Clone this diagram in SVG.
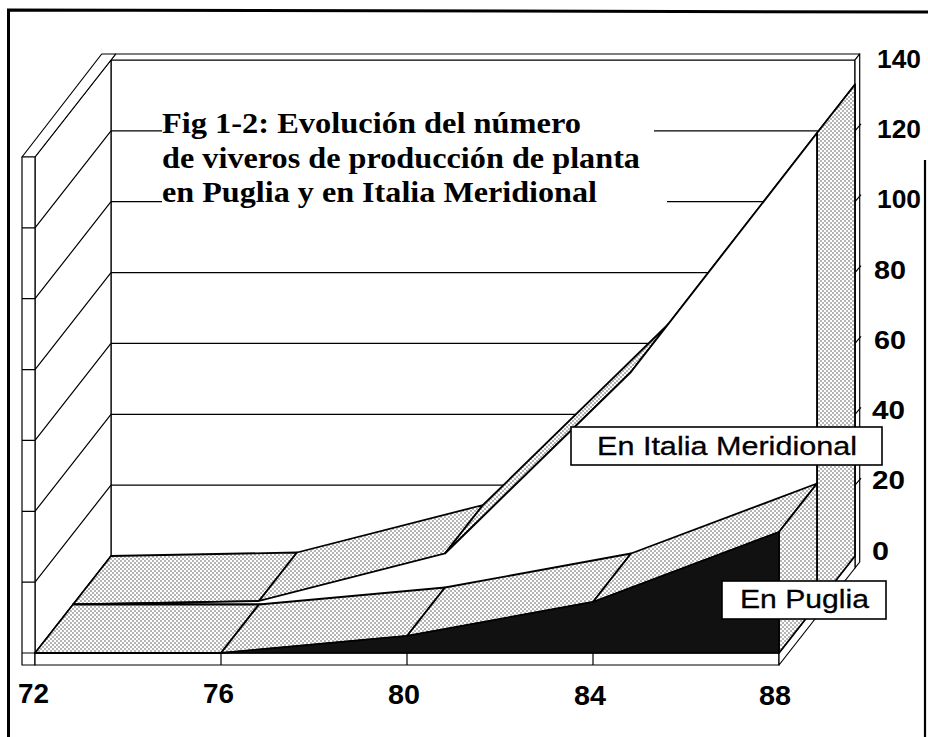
<svg xmlns="http://www.w3.org/2000/svg" width="928" height="737" viewBox="0 0 928 737">
<defs>
<pattern id="dots" width="4" height="4" patternUnits="userSpaceOnUse">
<rect width="4" height="4" fill="#fff"/>
<circle cx="1" cy="1" r="0.7" fill="#333"/>
<circle cx="3" cy="3" r="0.7" fill="#333"/>
</pattern>
<style>
.w{fill:#fff;stroke:#000;stroke-width:1.2;stroke-linejoin:round}
.g{fill:none;stroke:#000;stroke-width:1.2}
.s{fill:url(#dots);stroke:#000;stroke-width:1.8;stroke-linejoin:round}
.f{fill:#fff;stroke:#000;stroke-width:1.8;stroke-linejoin:round}
.k{fill:#111;stroke:#000;stroke-width:1.5;stroke-linejoin:round}
.num{font-family:"Liberation Sans",Arial,sans-serif;font-weight:bold;font-size:25px;fill:#000}
.numx{font-family:"Liberation Sans",Arial,sans-serif;font-weight:bold;font-size:28px;fill:#000}
.lab{font-family:"Liberation Sans",Arial,sans-serif;font-size:26px;fill:#000;stroke:#000;stroke-width:0.3}
.ttl{font-family:"Liberation Serif","Times New Roman",serif;font-weight:bold;font-size:29px;fill:#000}
.box{fill:#fff;stroke:#000;stroke-width:1.6}
</style>
</defs>

<g id="frame" fill="none" stroke="#000" stroke-width="3">
<path d="M8.5 737 V10 L928 12"/>
<path d="M925 160 V737" stroke-width="2.2"/>
</g>

<g id="walls">
<rect class="w" x="111" y="60" width="744" height="496"/>
<polygon class="w" points="111,60 855,60 859.7,54 115.7,54"/>
<polygon class="w" points="855,60 859.7,54 859.7,562 855,568"/>
<g class="g">
<path d="M111 485.1 H855 M111 414.3 H855 M111 343.4 H855 M111 272.6 H855"/>
<path d="M111 201.7 H162 M667 201.7 H855 M111 130.8 H162 M654 130.8 H855"/>
<path d="M855 485.1 l6 -7 M855 414.3 l6 -7 M855 343.4 l6 -7 M855 272.6 l6 -7 M855 201.7 l6 -7 M855 130.8 l6 -7"/>
</g>
<polygon class="w" points="35,157 111,60 111,556 35,653"/>
<g class="g">
<path d="M35 582.1 L111 485.1 M35 511.3 L111 414.3 M35 440.4 L111 343.4 M35 369.6 L111 272.6 M35 298.7 L111 201.7 M35 227.8 L111 130.8"/>
</g>
<polygon class="w" points="22,157 35,157 115.7,54 101.7,54"/>
<rect class="w" x="22" y="157" width="13" height="508"/>
<path class="g" d="M22 227.8 H35 M22 298.7 H35 M22 369.6 H35 M22 440.4 H35 M22 511.3 H35 M22 582.1 H35 M22 653 H35"/>
<polygon class="w" points="35,653 779,653 855,556 111,556"/>
<rect class="w" x="35" y="653" width="744" height="12"/>
<path class="g" d="M221 653 V665 M407 653 V665 M593 653 V665"/>
<polygon class="w" points="779,653 855,556 855,568 779,665"/>
</g>

<g id="italia-meridional">
<polygon class="s" points="73,604.5 259,601 297,552.5 111,556"/>
<polygon class="s" points="259,601 445,553.5 483,505 297,552.5"/>
<polygon class="s" points="445,553.5 631,372 669,323.5 483,505"/>
<polygon class="s" points="631,372 817,133 855,84.5 669,323.5"/>
<polygon class="s" points="817,133 855,84.5 855,556 817,604.5"/>
<polygon class="f" points="73,604.5 259,601 445,553.5 631,372 817,133 817,604.5"/>
</g>

<g id="puglia">
<polygon class="s" points="35,653 221,653 259,604.5 73,604.5"/>
<polygon class="s" points="221,653 407,636 445,587.5 259,604.5"/>
<polygon class="s" points="407,636 593,602 631,553.5 445,587.5"/>
<polygon class="s" points="593,602 779,532 817,483.5 631,553.5"/>
<polygon class="s" points="779,532 817,483.5 817,604.5 779,653"/>
<polygon class="k" points="35,653 221,653 407,636 593,602 779,532 779,653"/>
</g>

<g id="y-axis-labels">
<text class="num" x="877" y="68" textLength="44" lengthAdjust="spacingAndGlyphs">140</text>
<text class="num" x="877" y="138" textLength="44" lengthAdjust="spacingAndGlyphs">120</text>
<text class="num" x="877" y="208" textLength="44" lengthAdjust="spacingAndGlyphs">100</text>
<text class="num" x="874" y="279" textLength="32" lengthAdjust="spacingAndGlyphs">80</text>
<text class="num" x="874" y="349" textLength="32" lengthAdjust="spacingAndGlyphs">60</text>
<text class="num" x="872" y="419" textLength="33" lengthAdjust="spacingAndGlyphs">40</text>
<text class="num" x="872" y="489" textLength="33" lengthAdjust="spacingAndGlyphs">20</text>
<text class="num" x="872" y="560" textLength="17" lengthAdjust="spacingAndGlyphs">0</text>
</g>

<g id="x-axis-labels">
<text class="numx" x="18" y="703" textLength="31" lengthAdjust="spacingAndGlyphs">72</text>
<text class="numx" x="203" y="703" textLength="31" lengthAdjust="spacingAndGlyphs">76</text>
<text class="numx" x="388" y="704" textLength="32" lengthAdjust="spacingAndGlyphs">80</text>
<text class="numx" x="574" y="705" textLength="32" lengthAdjust="spacingAndGlyphs">84</text>
<text class="numx" x="759" y="705" textLength="32" lengthAdjust="spacingAndGlyphs">88</text>
</g>

<g id="title">
<text class="ttl" x="162" y="133" textLength="419" lengthAdjust="spacingAndGlyphs">Fig 1-2: Evolución del número</text>
<text class="ttl" x="162" y="167.5" textLength="478" lengthAdjust="spacingAndGlyphs">de viveros de producción de planta</text>
<text class="ttl" x="162" y="202" textLength="435" lengthAdjust="spacingAndGlyphs">en Puglia y en Italia Meridional</text>
</g>

<g id="legend-italia">
<rect class="box" x="571" y="427" width="311" height="38"/>
<text class="lab" x="597" y="455" textLength="260" lengthAdjust="spacingAndGlyphs">En Italia Meridional</text>
</g>

<g id="legend-puglia">
<rect class="box" x="722" y="581" width="164" height="38"/>
<text class="lab" x="740" y="608" textLength="129" lengthAdjust="spacingAndGlyphs">En Puglia</text>
</g>
</svg>
